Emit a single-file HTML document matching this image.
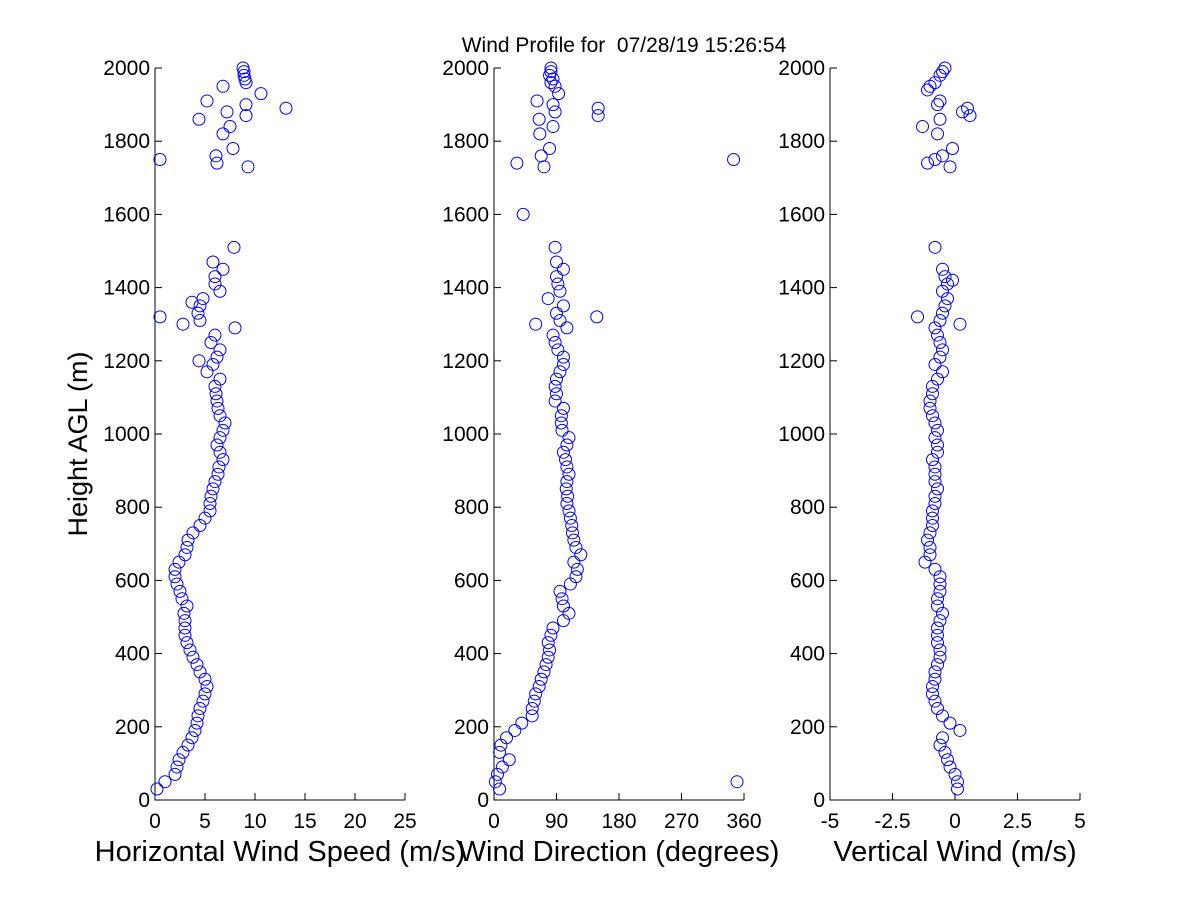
<!DOCTYPE html>
<html><head><meta charset="utf-8"><style>
body{margin:0;background:#fff;}
svg text{font-family:"Liberation Sans",sans-serif;fill:#000;}
</style></head><body>
<svg id="chart" width="1200" height="900" xmlns="http://www.w3.org/2000/svg">
<rect width="1200" height="900" fill="#fff"/>
<text x="624" y="52" font-size="21" text-anchor="middle" style="white-space:pre">Wind Profile for  07/28/19 15:26:54</text>
<text transform="translate(87,444) rotate(-90)" font-size="27" text-anchor="middle">Height AGL (m)</text>
<g id="panels"></g>
</svg>
<script>
const speedH=[30,50,70,90,110,130,150,170,190,210,230,250,270,290,310,330,350,370,390,410,430,450,470,490,510,530,550,570,590,610,630,650,670,690,710,730,750,770,790,810,830,850,870,890,910,930,950,970,990,1010,1030,1050,1070,1090,1110,1130,1150,1170,1190,1210,1230,1250,1270,1290,1310,1330,1350,1370,1390,1410,1430,1450,1470,1320,1300,1360,1510,1200,1750,1740,1730,1760,1780,1820,1840,1860,1870,1880,1890,1900,1910,1930,1950,1960,1970,1980,1990,2000];
const speedV=[0.2,1,2,2.2,2.4,2.8,3.3,3.7,4,4.2,4.3,4.5,4.8,5,5.2,5,4.5,4.2,3.8,3.5,3.2,3,3,3,2.9,3.2,2.7,2.5,2.2,2,2,2.4,3,3.2,3.3,3.8,4.5,5,5.5,5.5,5.6,5.8,6,6.3,6.4,6.8,6.5,6.2,6.5,6.8,7,6.5,6.3,6.2,6.1,6,6.5,5.2,5.8,6.2,6.5,5.6,6,8,4.5,4.3,4.5,4.8,6.5,6,6,6.8,5.8,0.5,2.8,3.7,7.9,4.4,0.5,6.2,9.3,6.1,7.8,6.8,7.5,4.4,9.1,7.2,13.1,9.1,5.2,10.6,6.8,9.1,9,8.9,8.9,8.8];
const dirH=[30,50,70,90,110,130,150,170,190,210,230,250,270,290,310,330,350,370,390,410,430,450,470,490,510,530,550,570,590,610,630,650,670,690,710,730,750,770,790,810,830,850,870,890,910,930,950,970,990,1010,1030,1050,1070,1090,1110,1130,1150,1170,1190,1210,1230,1250,1270,1290,1310,1330,1350,1370,1390,1410,1430,1450,1470,1510,1300,1320,50,1600,1750,1740,1730,1760,1780,1820,1840,1860,1870,1890,1880,1900,1910,1930,1950,1960,1970,1980,1990,2000];
const dirV=[8,2,5,12,22,8,10,18,30,40,55,55,58,60,65,68,72,75,78,80,78,82,85,100,108,100,98,95,110,118,120,115,125,118,115,113,112,110,108,105,106,104,105,108,105,103,100,105,108,98,97,97,100,88,90,88,90,95,100,100,92,88,85,105,95,90,100,78,95,92,90,100,90,88,60,148,350,42,345,33,72,68,80,66,85,65,150,150,88,85,62,93,88,82,85,80,82,82];
const vertH=[30,50,70,90,110,130,150,170,190,210,230,250,270,290,310,330,350,370,390,410,430,450,470,490,510,530,550,570,590,610,630,650,670,690,710,730,750,770,790,810,830,850,870,890,910,930,950,970,990,1010,1030,1050,1070,1090,1110,1130,1150,1170,1190,1210,1230,1250,1270,1290,1310,1320,1300,1330,1350,1370,1390,1410,1420,1430,1450,1510,1730,1740,1750,1760,1780,1820,1840,1860,1870,1880,1890,1900,1910,1940,1950,1960,1980,1990,2000];
const vertV=[0.1,0.1,0,-0.2,-0.3,-0.4,-0.6,-0.5,0.2,-0.2,-0.5,-0.7,-0.8,-0.9,-0.9,-0.8,-0.8,-0.7,-0.6,-0.6,-0.7,-0.7,-0.7,-0.6,-0.5,-0.7,-0.7,-0.6,-0.6,-0.6,-0.8,-1.2,-1,-1,-1.1,-1,-0.9,-0.9,-0.9,-0.8,-0.8,-0.7,-0.8,-0.8,-0.8,-0.9,-0.7,-0.7,-0.8,-0.7,-0.8,-0.9,-1,-1,-0.9,-0.9,-0.7,-0.5,-0.8,-0.6,-0.5,-0.6,-0.7,-0.8,-0.6,-1.5,0.2,-0.5,-0.4,-0.3,-0.5,-0.3,-0.1,-0.4,-0.5,-0.8,-0.2,-1.1,-0.8,-0.5,-0.1,-0.7,-1.3,-0.6,0.6,0.3,0.5,-0.7,-0.6,-1.1,-1,-0.8,-0.6,-0.5,-0.4];
const yTicks=[0,200,400,600,800,1000,1200,1400,1600,1800,2000];
const speedTicks=[0,5,10,15,20,25];
const dirTicks=[0,90,180,270,360];
const vertTicks=[-5,-2.5,0,2.5,5];
const vertTickLabels=["-5","-2.5","0","2.5","5"];

const NS="http://www.w3.org/2000/svg";
const g=document.getElementById('panels');
const Y0=800,Y1=68;
function yScale(h){return Y0-(h/2000)*(Y0-Y1);}
function mk(tag,attrs,parent){const e=document.createElementNS(NS,tag);for(const k in attrs)e.setAttribute(k,attrs[k]);parent.appendChild(e);return e;}
function panel(name,x0,x1,dmin,dmax,ticks,labels,title,H,V){
  const p=mk('g',{},g);
  
  
  const xs=v=>x0+(v-dmin)/(dmax-dmin)*(x1-x0);
  const ax=mk('path',{d:`M${x0},${Y1}V${Y0}H${x1}`,stroke:'#000','stroke-width':1,fill:'none'},p);
  
  
  yTicks.forEach(t=>{
    const y=yScale(t);
    const tk=mk('line',{x1:x0,x2:x0+7,y1:y,y2:y,stroke:'#000'},p);
    
    
    const tl=mk('text',{x:x0-5,y:y+7,'font-size':21,'text-anchor':'end'},p);
    tl.textContent=t;
    
    
  });
  ticks.forEach((t,i)=>{
    const x=xs(t);
    const tk=mk('line',{x1:x,x2:x,y1:Y0,y2:Y0-7,stroke:'#000'},p);
    
    
    const tl=mk('text',{x:x,y:828,'font-size':21,'text-anchor':'middle'},p);
    tl.textContent=labels[i];
    
    
  });
  const at=mk('text',{x:(x0+x1)/2,y:861,'font-size':29,'text-anchor':'middle'},p);
  at.textContent=title;
  
  
  H.forEach((h,i)=>{
    const c=mk('circle',{cx:xs(V[i]),cy:yScale(h),r:6,fill:'none',stroke:'#0000ff','stroke-width':1},p);
    
    
  });
}
panel('speed',155,405,0,25,speedTicks,speedTicks.map(String),'Horizontal Wind Speed (m/s)',speedH,speedV);
panel('direction',494,744,0,360,dirTicks,dirTicks.map(String),'Wind Direction (degrees)',dirH,dirV);
panel('vertical',830,1080,-5,5,vertTicks,vertTickLabels,'Vertical Wind (m/s)',vertH,vertV);
</script>
</body></html>
